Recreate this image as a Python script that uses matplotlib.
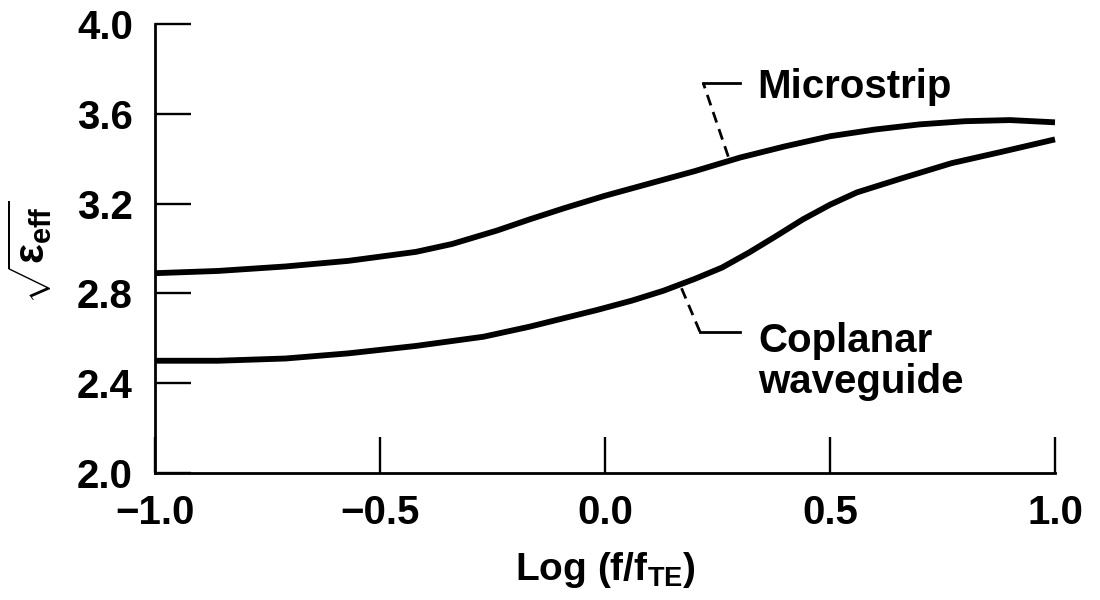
import matplotlib
matplotlib.use("Agg")
import matplotlib.pyplot as plt

# ---- data ----
microstrip_x = [-1.0, -0.86, -0.71, -0.57, -0.42, -0.34, -0.24, -0.167, -0.09, 0.0,
                0.1, 0.2, 0.3, 0.4, 0.5, 0.6, 0.7, 0.8, 0.9, 1.0]
microstrip_y = [2.89, 2.90, 2.92, 2.945, 2.985, 3.02, 3.08, 3.13, 3.18, 3.235,
                3.29, 3.345, 3.405, 3.455, 3.50, 3.53, 3.553, 3.567, 3.572, 3.562]

coplanar_x = [-1.0, -0.86, -0.71, -0.57, -0.42, -0.27, -0.167, -0.018, 0.06, 0.13,
              0.2, 0.26, 0.32, 0.38, 0.44, 0.5, 0.56, 0.66, 0.77, 0.88, 1.0]
coplanar_y = [2.50, 2.50, 2.51, 2.533, 2.566, 2.607, 2.652, 2.726, 2.768, 2.812,
              2.865, 2.915, 2.982, 3.055, 3.13, 3.195, 3.25, 3.313, 3.38, 3.43, 3.486]

x_ticks = [-1.0, -0.5, 0.0, 0.5, 1.0]
y_ticks = [2.0, 2.4, 2.8, 3.2, 3.6, 4.0]
x_ticklabels = ["\u22121.0", "\u22120.5", "0.0", "0.5", "1.0"]
y_ticklabels = ["2.0", "2.4", "2.8", "3.2", "3.6", "4.0"]

label_microstrip = "Microstrip"
label_coplanar = ["Coplanar", "waveguide"]

# ---- style ----
plt.rcParams["font.family"] = ["Liberation Sans", "DejaVu Sans"]
plt.rcParams["font.weight"] = "bold"
plt.rcParams["mathtext.fontset"] = "custom"
plt.rcParams["mathtext.rm"] = "Liberation Sans:bold"
plt.rcParams["mathtext.it"] = "Liberation Sans:bold"
plt.rcParams["mathtext.bf"] = "Liberation Sans:bold"
plt.rcParams["mathtext.sf"] = "Liberation Sans:bold"

fig = plt.figure(figsize=(11, 6), dpi=100)
ax = fig.add_axes([155 / 1100, 1 - 473 / 600, 900 / 1100, 449 / 600])

ax.plot(microstrip_x, microstrip_y, color="black", lw=4.2, clip_on=False,
        solid_joinstyle="round", solid_capstyle="butt")
ax.plot(coplanar_x, coplanar_y, color="black", lw=4.2, clip_on=False,
        solid_joinstyle="round", solid_capstyle="butt")

ax.set_xlim(-1.0, 1.0)
ax.set_ylim(2.0, 4.0)
ax.set_xticks(x_ticks)
ax.set_xticklabels(x_ticklabels)
ax.set_yticks(y_ticks)
ax.set_yticklabels(y_ticklabels)

for s in ["top", "right"]:
    ax.spines[s].set_visible(False)
for s in ["left", "bottom"]:
    ax.spines[s].set_linewidth(2.0)

ax.tick_params(axis="both", direction="in", length=26, width=1.7,
               labelsize=29, colors="black")
ax.tick_params(axis="y", pad=16)
ax.tick_params(axis="x", pad=15)
for t in ax.get_xticklabels() + ax.get_yticklabels():
    t.set_fontweight("bold")

# axis labels
fig.text(605 / 1100, 1 - 580 / 600, r"Log (f/f$_{\mathrm{TE}}$)",
         ha="center", va="baseline", fontsize=28, fontweight="bold")
fig.text(30 / 1100, 1 - 252 / 600, r"$\sqrt{\epsilon_{\mathrm{eff}}}$",
         rotation=90, ha="center", va="center", fontsize=30)

# leader for Microstrip
ax.plot([0.274, 0.2185], [3.409, 3.736], color="black", lw=2.0,
        dashes=(4, 2.5), clip_on=False)
ax.plot([0.2185, 0.30], [3.736, 3.736], color="black", lw=2.0, clip_on=False)
ax.text(0.338, 3.670, label_microstrip, ha="left", va="baseline",
        fontsize=29, fontweight="bold")

# leader for Coplanar waveguide
ax.plot([0.170, 0.211], [2.823, 2.629], color="black", lw=2.0,
        dashes=(4, 2.5), clip_on=False)
ax.plot([0.211, 0.30], [2.629, 2.629], color="black", lw=2.0, clip_on=False)
ax.text(0.340, 2.540, label_coplanar[0], ha="left", va="baseline",
        fontsize=29, fontweight="bold")
ax.text(0.340, 2.356, label_coplanar[1], ha="left", va="baseline",
        fontsize=29, fontweight="bold")

fig.savefig("out.png", dpi=100, facecolor="white")
